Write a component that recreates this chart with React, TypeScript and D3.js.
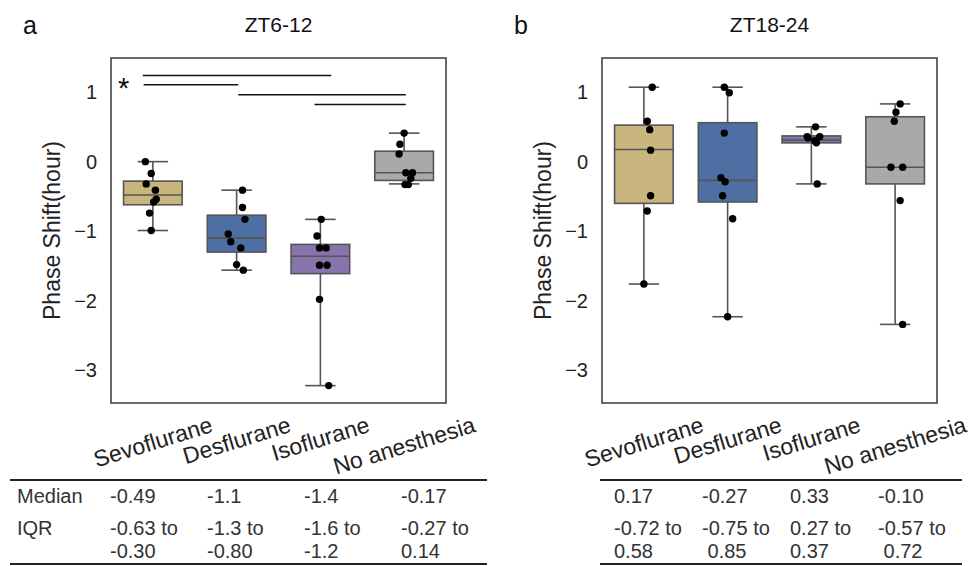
import { useMemo } from 'react'
import * as d3 from 'd3'

// ---- data ----
const categories = ['Sevoflurane', 'Desflurane', 'Isoflurane', 'No anesthesia']
const fills = ['#c8b67e', '#4e6fa3', '#8874ad', '#a9a9a9']
const yTicks = [1, 0, -1, -2, -3]

// box stats: [low whisker, q1, median, q3, high whisker]
const boxesA = [
  [-0.99, -0.62, -0.48, -0.28, 0.0],
  [-1.56, -1.3, -1.1, -0.77, -0.41],
  [-3.22, -1.61, -1.36, -1.19, -0.83],
  [-0.32, -0.27, -0.16, 0.15, 0.41],
]
const pointsA = [
  [0.0, -0.17, -0.32, -0.41, -0.54, -0.58, -0.74, -0.99],
  [-0.41, -0.66, -0.83, -1.04, -1.15, -1.24, -1.48, -1.56],
  [-0.83, -1.07, -1.24, -1.24, -1.49, -1.49, -1.98, -3.22],
  [0.41, 0.25, 0.11, -0.16, -0.16, -0.24, -0.33, -0.33],
]
// stripplot jitter, as a fraction of the band
const jitterA = [
  [-0.09, -0.02, -0.08, 0.03, 0.04, 0.01, -0.04, -0.02],
  [0.07, 0.07, 0.1, -0.1, -0.07, 0.05, 0.0, 0.08],
  [0.01, -0.04, -0.01, 0.07, -0.01, 0.08, -0.01, 0.1],
  [0.0, -0.05, -0.06, 0.02, 0.1, 0.08, 0.01, 0.05],
]

const boxesB = [
  [-1.76, -0.6, 0.175, 0.525, 1.07],
  [-2.23, -0.58, -0.27, 0.56, 1.07],
  [-0.32, 0.27, 0.31, 0.37, 0.5],
  [-2.34, -0.32, -0.08, 0.645, 0.83],
]
const pointsB = [
  [1.07, 0.58, 0.46, 0.165, -0.49, -0.71, -1.76],
  [1.07, 0.99, 0.41, -0.23, -0.29, -0.49, -0.82, -2.23],
  [0.5, 0.36, 0.34, 0.36, 0.3, 0.27, -0.32],
  [0.83, 0.71, 0.58, -0.08, -0.08, -0.56, -2.34],
]
const jitterB = [
  [0.1, 0.04, 0.07, 0.08, 0.08, 0.04, 0.0],
  [-0.04, 0.02, -0.04, -0.08, -0.03, -0.06, 0.06, 0.0],
  [0.05, -0.05, -0.04, 0.1, 0.04, 0.06, 0.07],
  [0.06, 0.01, -0.01, -0.05, 0.09, 0.06, 0.09],
]

// significance bars (panel a): [from category index, to category index, y]
const sigBars = [
  [-0.12, 2.13, 1.24],
  [-0.11, 1.02, 1.105],
  [1.02, 3.02, 0.96],
  [1.93, 3.02, 0.82],
]

const mediansA = ['-0.49', '-1.1', '-1.4', '-0.17']
const iqrA = [['-0.63 to', '-0.30'], ['-1.3 to', '-0.80'], ['-1.6 to', '-1.2'], ['-0.27 to', '0.14']]
const mediansB = ['0.17', '-0.27', '0.33', '-0.10']
const iqrB = [['-0.72 to', '0.58'], ['-0.75 to', ' 0.85'], ['0.27 to', '0.37'], ['-0.57 to', ' 0.72']]

// ---- layout ----
const W = 973
const H = 566
const plotTop = 58
const plotBottom = 403
const plotW = 335
const edge = '#555555'
const axisFont = '"Liberation Sans", Arial, sans-serif'
const tableFont = '"Liberation Sans", Arial, sans-serif'

const y = d3.scaleLinear().domain([-3.47, 1.49]).range([plotBottom, plotTop])

let measureCtx: CanvasRenderingContext2D | null = null
function textWidth(s: string, font: string) {
  if (!measureCtx) measureCtx = document.createElement('canvas').getContext('2d')
  if (!measureCtx) return s.length * 11
  measureCtx.font = font
  return measureCtx.measureText(s).width
}

function Panel({ left, title, letter, boxes, points, jitter, medians, iqr, tableX0, tableX1, colX0, colStep, showSig }: any) {
  const x = d3.scaleBand().domain(categories).range([left, left + plotW])
  const bw = x.bandwidth()
  const boxW = bw * 0.7
  const capW = boxW * 0.52
  const cx = (i: number) => (x(categories[i]) as number) + bw / 2
  const idx = d3.scaleLinear().domain([0, 1]).range([cx(0), cx(1)])
  const fmt = d3.format('d')
  const rot = 17
  const labelSize = 23

  const labels = useMemo(
    () =>
      categories.map((c) => {
        const w = textWidth(c, `${labelSize}px "Liberation Sans"`)
        const h = labelSize * 0.9
        const r = (rot * Math.PI) / 180
        return 414 + (w * Math.sin(r) + h * Math.cos(r)) / 2
      }),
    []
  )

  return (
    <g>
      <text x={left - 88} y={34} fontSize={25} fontFamily={axisFont} fill="#111">{letter}</text>
      <text x={left + plotW / 2} y={32} fontSize={21} textAnchor="middle" fontFamily={axisFont} fill="#111">{title}</text>

      {/* y axis */}
      {yTicks.map((t) => (
        <text key={t} x={left - 14} y={y(t)} dy="0.35em" textAnchor="end" fontSize={20} fontFamily={axisFont} fill="#222">
          {fmt(t)}
        </text>
      ))}
      <text
        transform={`translate(${left - 51},${(plotTop + plotBottom) / 2}) rotate(-90)`}
        textAnchor="middle"
        fontSize={23}
        fontFamily={axisFont}
        fill="#222"
      >
        Phase Shift(hour)
      </text>

      {/* boxes */}
      {boxes.map((b: number[], i: number) => {
        const c = cx(i)
        return (
          <g key={i} stroke={edge} strokeWidth={1.6} fill="none">
            <line x1={c} x2={c} y1={y(b[0])} y2={y(b[1])} />
            <line x1={c} x2={c} y1={y(b[3])} y2={y(b[4])} />
            <line x1={c - capW / 2} x2={c + capW / 2} y1={y(b[0])} y2={y(b[0])} />
            <line x1={c - capW / 2} x2={c + capW / 2} y1={y(b[4])} y2={y(b[4])} />
            <rect x={c - boxW / 2} width={boxW} y={y(b[3])} height={y(b[1]) - y(b[3])} fill={fills[i]} />
            <line x1={c - boxW / 2} x2={c + boxW / 2} y1={y(b[2])} y2={y(b[2])} />
          </g>
        )
      })}

      {/* points */}
      {points.map((ps: number[], i: number) =>
        ps.map((v, j) => <circle key={`${i}-${j}`} cx={cx(i) + jitter[i][j] * bw} cy={y(v)} r={3.7} fill="#000" />)
      )}

      {showSig && (
        <g>
          {sigBars.map((s, k) => (
            <line key={k} x1={idx(s[0])} x2={idx(s[1])} y1={y(s[2])} y2={y(s[2])} stroke="#111" strokeWidth={1.5} />
          ))}
          <text x={idx(-0.35)} y={y(1.14)} dy="0.55em" textAnchor="middle" fontSize={29} fontFamily={axisFont} fill="#111">*</text>
        </g>
      )}

      {/* frame */}
      <rect x={left} y={plotTop} width={plotW} height={plotBottom - plotTop} fill="none" stroke="#444" strokeWidth={1.6} />

      {/* category labels */}
      {categories.map((c, i) => (
        <text
          key={c}
          transform={`translate(${cx(i)},${labels[i]}) rotate(${-rot})`}
          textAnchor="middle"
          dy="0.35em"
          fontSize={labelSize}
          fontFamily={axisFont}
          fill="#222"
        >
          {c}
        </text>
      ))}

      {/* table */}
      <line x1={tableX0} x2={tableX1} y1={480} y2={480} stroke="#222" strokeWidth={2} />
      <line x1={tableX0} x2={tableX1} y1={564} y2={564} stroke="#222" strokeWidth={2} />
      <g fontSize={20} fontFamily={tableFont} fill="#333">
        {letter === 'a' && (
          <>
            <text x={17} y={496} dy="0.35em">Median</text>
            <text x={17} y={528} dy="0.35em">IQR</text>
          </>
        )}
        {medians.map((m: string, i: number) => (
          <text key={`m${i}`} x={colX0 + i * colStep} y={496} dy="0.35em" xmlSpace="preserve">{m}</text>
        ))}
        {iqr.map((q: string[], i: number) => (
          <g key={`q${i}`}>
            <text x={colX0 + i * colStep} y={528} dy="0.35em" xmlSpace="preserve">{q[0]}</text>
            <text x={colX0 + i * colStep} y={551} dy="0.35em" xmlSpace="preserve">{q[1]}</text>
          </g>
        ))}
      </g>
    </g>
  )
}

export default function App() {
  return (
    <div style={{ position: 'absolute', left: 0, top: 0, background: '#fff' }}>
      <svg width={W} height={H} viewBox={`0 0 ${W} ${H}`} style={{ display: 'block' }}>
        <rect width={W} height={H} fill="#fff" />
        <Panel
          left={111}
          title="ZT6-12"
          letter="a"
          boxes={boxesA}
          points={pointsA}
          jitter={jitterA}
          medians={mediansA}
          iqr={iqrA}
          tableX0={10}
          tableX1={487}
          colX0={110}
          colStep={97}
          showSig
        />
        <Panel
          left={602}
          title="ZT18-24"
          letter="b"
          boxes={boxesB}
          points={pointsB}
          jitter={jitterB}
          medians={mediansB}
          iqr={iqrB}
          tableX0={600}
          tableX1={962}
          colX0={614}
          colStep={88}
          showSig={false}
        />
      </svg>
    </div>
  )
}
